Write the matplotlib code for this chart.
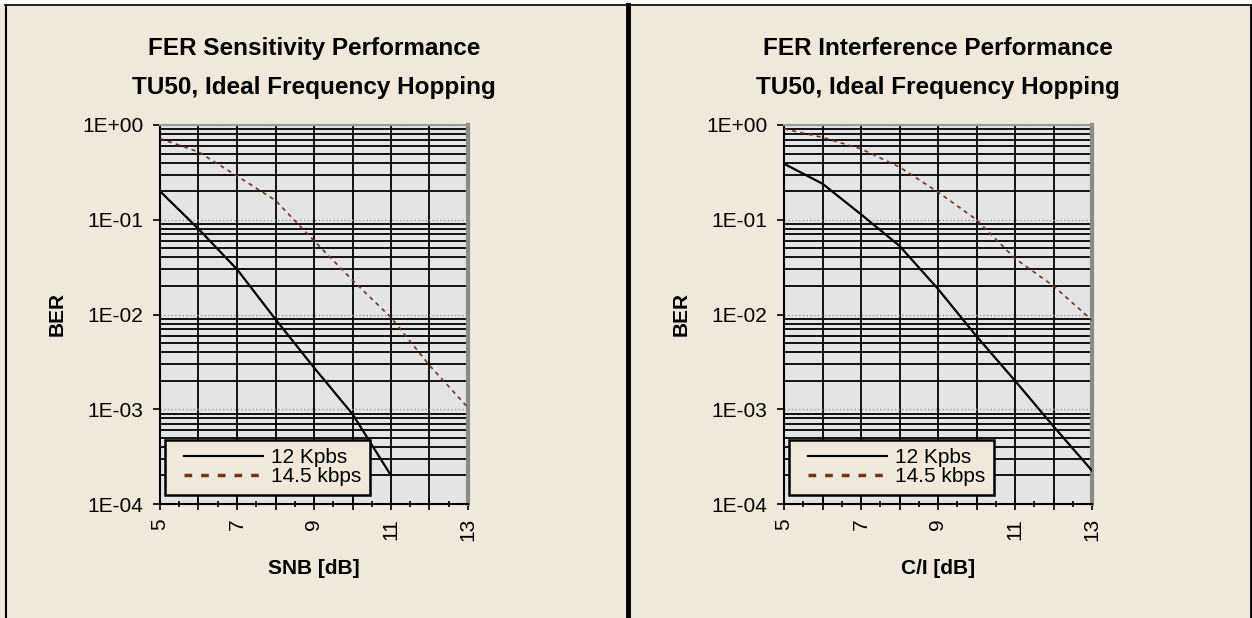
import numpy as np
import matplotlib
matplotlib.use("Agg")
import matplotlib.pyplot as plt
from matplotlib.ticker import MultipleLocator, LogLocator, FuncFormatter, NullFormatter
from matplotlib.patches import Rectangle
from matplotlib.lines import Line2D
from matplotlib.legend_handler import HandlerLine2D

plt.rcParams['font.family'] = ['Liberation Sans', 'DejaVu Sans']

# data
snb = [5, 6, 7, 8, 9, 10, 11, 12, 13]
snb_12k = [0.2, 0.08, 0.03, 0.0089, 0.00275, 0.00089, 0.0002]
snb_145k = [0.72, 0.52, 0.29, 0.16, 0.06, 0.023, 0.0093, 0.0029, 0.00104]

ci = [5, 6, 7, 8, 9, 10, 11, 12, 13]
ci_12k = [0.39, 0.24, 0.114, 0.053, 0.0186, 0.0059, 0.002, 0.00066, 0.000225]
ci_145k = [0.91, 0.74, 0.56, 0.36, 0.196, 0.1, 0.039, 0.02, 0.0087]

titles = ["FER Sensitivity Performance\nTU50, Ideal Frequency Hopping",
          "FER Interference Performance\nTU50, Ideal Frequency Hopping"]
xlabels = ["SNB [dB]", "C/I [dB]"]
series_names = ["12 Kpbs", "14.5 kbps"]

beige = '#F0E8DA'
plotbg = '#E4E4E4'
brown = '#7A3418'

W, H = 1252, 618
fig = plt.figure(figsize=(W / 100, H / 100), dpi=100, facecolor=beige)

# white strip on top + panel frame lines
fig.add_artist(Rectangle((0, 1 - 5 / H), 1, 5 / H, transform=fig.transFigure,
                         facecolor='white', edgecolor='none', zorder=0))
def fline(x0, y0, x1, y1, lw):
    fig.add_artist(Line2D([x0 / W, x1 / W], [1 - y0 / H, 1 - y1 / H],
                          transform=fig.transFigure, color='black', lw=lw))
fline(5, 5, 1251, 5, 1.2)
fline(5.5, 5, 5.5, 618, 1.5)
fline(628, 5, 628, 618, 3.5)
fline(1250.5, 5, 1250.5, 618, 2)


def fmt_y(v, _):
    return '1E%+03d' % round(np.log10(v))


def fmt_x(v, _):
    i = int(round(v))
    return str(i) if i % 2 == 1 else ''


def make_panel(left_px, x, y12, y145, title, xlabel):
    ax = fig.add_axes([left_px / W, 1 - 504 / H, 308 / W, 379 / H])
    ax.set_facecolor(plotbg)
    ax.set_yscale('log')
    ax.set_xlim(5, 13)
    ax.set_ylim(1e-4, 1)

    ax.plot(x[:len(y12)], y12, color='black', lw=1.6, label=series_names[0], zorder=3)
    ax.plot(x, y145, color=brown, lw=1.2, ls=(0, (2.5, 2.5)), label=series_names[1], zorder=3)

    ax.xaxis.set_major_locator(MultipleLocator(1))
    ax.xaxis.set_minor_locator(MultipleLocator(0.5))
    ax.xaxis.set_major_formatter(FuncFormatter(fmt_x))
    ax.yaxis.set_major_locator(LogLocator(base=10, numticks=10))
    ax.yaxis.set_minor_locator(LogLocator(base=10, subs=np.arange(2, 10), numticks=10))
    ax.yaxis.set_major_formatter(FuncFormatter(fmt_y))
    ax.yaxis.set_minor_formatter(NullFormatter())

    ax.tick_params(axis='x', which='major', direction='inout', length=8, width=1.2,
                   labelsize=15, rotation=90, pad=6)
    ax.tick_params(axis='x', which='minor', direction='inout', length=5, width=1.2)
    ax.tick_params(axis='y', which='major', direction='out', length=5, width=1.2,
                   labelsize=15, pad=7)
    ax.tick_params(axis='y', which='minor', length=0)

    ax.grid(True, axis='x', which='major', color='black', lw=1.3)
    ax.grid(True, axis='y', which='minor', color='black', lw=1.3)
    ax.grid(True, axis='y', which='major', color='#9A9A9A', lw=1.0, ls=':')

    for s in ['left', 'bottom']:
        ax.spines[s].set_color('black')
        ax.spines[s].set_linewidth(1.5)
    ax.spines['top'].set_color('#9A9A9A')
    ax.spines['top'].set_linewidth(1.5)
    ax.spines['right'].set_color('#8A8A8A')
    ax.spines['right'].set_linewidth(3)

    ax.set_title(title, fontsize=17.5, fontweight='bold', pad=22, linespacing=1.9)
    ax.set_ylabel('BER', fontsize=15, fontweight='bold')
    ax.yaxis.set_label_coords(-93 / 308, 0.5)
    ax.set_xlabel(xlabel, fontsize=15, fontweight='bold')
    ax.xaxis.set_label_coords(0.5, -0.17)
    ax.xaxis.label.set_va('center')

    leg = ax.legend(loc='lower left', bbox_to_anchor=(0.016, 0.024), fontsize=15,
                    frameon=True, fancybox=False, framealpha=1, facecolor=beige,
                    edgecolor='black', handlelength=4.3, borderpad=0.41,
                    labelspacing=0.0, handletextpad=0.38, borderaxespad=0,
                    handler_map={Line2D: HandlerLine2D(xpad=0.5)})
    leg.get_frame().set_linewidth(1.8)
    hl = leg.get_lines()
    hl[0].set_linewidth(1.5)
    hl[1].set_linewidth(2.5)
    hl[1].set_dashes((2.2, 2.6))
    return ax


make_panel(160, snb, snb_12k, snb_145k, titles[0], xlabels[0])
make_panel(784, ci, ci_12k, ci_145k, titles[1], xlabels[1])

fig.savefig('out.png', dpi=100, facecolor=fig.get_facecolor())
